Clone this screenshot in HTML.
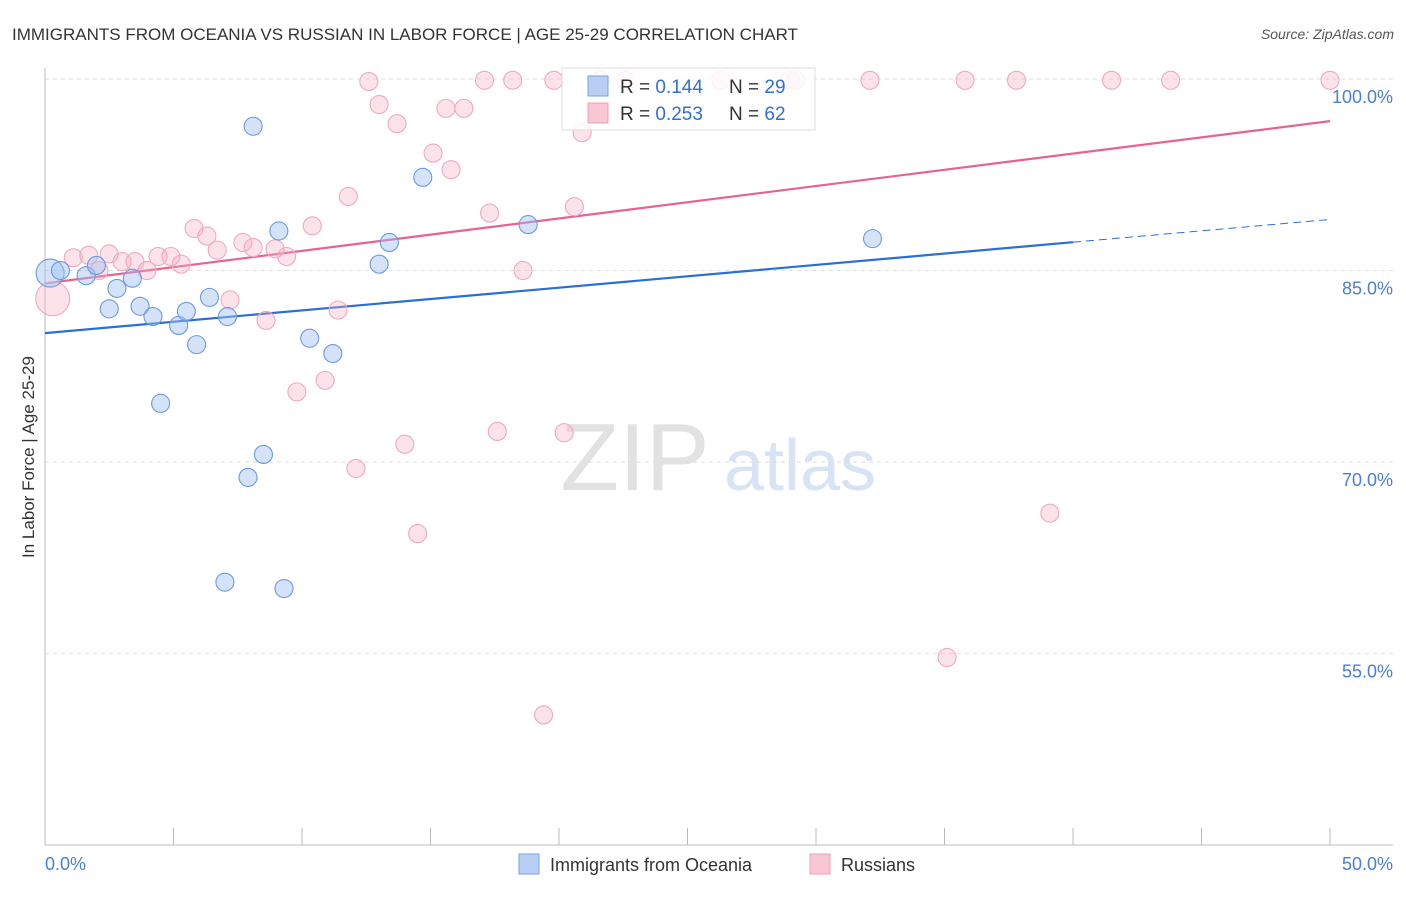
<!DOCTYPE html>
<html><head><meta charset="utf-8"><style>
body{margin:0;background:#fff;font-family:"Liberation Sans",sans-serif;}
svg text{font-family:"Liberation Sans",sans-serif;}
</style></head><body>
<svg width="1406" height="892" viewBox="0 0 1406 892">
<text x="12" y="40" font-size="17" fill="#333">IMMIGRANTS FROM OCEANIA VS RUSSIAN IN LABOR FORCE | AGE 25-29 CORRELATION CHART</text>
<text x="1394" y="39" font-size="14" fill="#555" font-style="italic" text-anchor="end">Source: ZipAtlas.com</text>
<g>
<text x="635" y="490" font-size="96" fill="#e2e2e2" font-family="Liberation Serif" text-anchor="middle">ZIP</text>
<text x="800" y="490" font-size="72" fill="#d8e3f5" text-anchor="middle">atlas</text>
</g>
<g id="grid"></g>
<g id="axes"></g>
<g id="lines"></g>
<g id="points"></g>
<text transform="translate(34,457) rotate(-90)" font-size="17" fill="#333" text-anchor="middle">In Labor Force | Age 25-29</text>
<text x="45" y="870" font-size="18" fill="#4a7fd4">0.0%</text>
<text x="1393" y="870" font-size="18" fill="#4a7fd4" text-anchor="end">50.0%</text>
<g>
<rect x="562" y="68" width="253" height="62" fill="rgba(255,255,255,0.85)" stroke="#ddd"/>
<rect x="588" y="76" width="20" height="20" fill="#b8cff3" stroke="#7aa3e6"/>
<rect x="588" y="103" width="20" height="20" fill="#f9c6d4" stroke="#eea0b5"/>
<text x="620" y="93" font-size="19" fill="#333">R = <tspan fill="#2f6fd6">0.144</tspan></text>
<text x="729" y="93" font-size="19" fill="#333">N = <tspan fill="#2f6fd6">29</tspan></text>
<text x="620" y="120" font-size="19" fill="#333">R = <tspan fill="#2f6fd6">0.253</tspan></text>
<text x="729" y="120" font-size="19" fill="#333">N = <tspan fill="#2f6fd6">62</tspan></text>
</g>
<g>
<rect x="519" y="854" width="20" height="20" fill="#b8cff3" stroke="#7aa3e6"/>
<text x="550" y="871" font-size="18" fill="#333">Immigrants from Oceania</text>
<rect x="810" y="854" width="20" height="20" fill="#f9c6d4" stroke="#eea0b5"/>
<text x="841" y="871" font-size="18" fill="#333">Russians</text>
</g>
</svg>
<script>
const yTicks=[100,85,70,55];
const yTickLabels=["100.0%","85.0%","70.0%","55.0%"];
const xTicks=[0,5,10,15,20,25,30,35,40,45,50];
const blueX=[0.2,0.6,1.6,2.0,2.5,2.8,3.4,3.7,4.2,4.5,5.2,5.5,5.9,6.4,7.0,7.1,7.9,8.1,8.5,9.1,9.3,10.3,11.2,13.0,13.4,14.7,18.8,32.2];
const blueY=[84.8,85.0,84.6,85.4,82.0,83.6,84.4,82.2,81.4,74.6,80.7,81.8,79.2,82.9,60.6,81.4,68.8,96.3,70.6,88.1,60.1,79.7,78.5,85.5,87.2,92.3,88.6,87.5];
const pinkX=[0.3,1.1,1.7,2.1,2.5,3.0,3.5,3.97,4.4,4.9,5.3,5.8,6.3,6.7,7.2,7.7,8.1,8.6,8.95,9.4,9.8,10.4,10.9,11.4,11.8,12.1,12.6,13.0,13.7,14.0,14.5,15.1,15.6,15.8,16.3,17.1,17.3,17.6,18.2,18.6,19.4,19.8,20.2,20.6,20.9,21.6,22.6,26.3,29.0,29.2,32.1,35.1,35.8,37.8,39.1,41.5,43.8,50.0];
const pinkY=[82.8,86.0,86.2,85.0,86.3,85.7,85.7,85.0,86.1,86.1,85.5,88.3,87.7,86.6,82.7,87.2,86.8,81.1,86.7,86.1,75.5,88.5,76.4,81.9,90.8,69.5,99.8,98.0,96.5,71.4,64.4,94.2,97.7,92.9,97.7,99.9,89.5,72.4,99.9,85.0,50.2,99.9,72.3,90.0,95.8,99.9,99.9,99.9,99.9,99.9,99.9,54.7,99.9,99.9,66.0,99.9,99.9,99.9];
const blueR=[14,9,9,9,9,9,9,9,9,9,9,9,9,9,9,9,9,9,9,9,9,9,9,9,9,9,9,9];
const pinkR0=17;
const blueTrend=[80.1,89.0];
const blueSolidEnd=40;
const pinkTrend=[84.0,96.7];
const NS="http://www.w3.org/2000/svg";
const sx=v=>45+v*25.7, sy=v=>79+(100-v)*12.77;
function mk(tag,attrs,parent){const e=document.createElementNS(NS,tag);for(const k in attrs)e.setAttribute(k,attrs[k]);document.getElementById(parent).appendChild(e);return e;}
yTicks.forEach((t,i)=>{
 const l=mk('line',{x1:45,x2:1393,y1:sy(t),y2:sy(t),stroke:'#ddd','stroke-dasharray':'4,4'},'grid');
 
 
 const tx=mk('text',{x:1393,y:sy(t)+24,'font-size':18,fill:'#4a7fd4','text-anchor':'end'},'grid');
 tx.textContent=yTickLabels[i];
 
 
});
const ya=mk('line',{x1:45,x2:45,y1:68,y2:845,stroke:'#bbb'},'axes');


const xa=mk('line',{x1:45,x2:1393,y1:845,y2:845,stroke:'#bbb'},'axes');


xTicks.forEach(t=>{const k=mk('line',{x1:sx(t),x2:sx(t),y1:828,y2:845,stroke:'#bbb'},'axes');
 
 });
const f=(tr,x)=>tr[0]+(tr[1]-tr[0])*x/50;
function pts(xs,ys,fill,stroke,name,rfn){xs.forEach((x,i)=>{const c=mk('circle',{cx:sx(x),cy:sy(ys[i]),r:rfn(i),fill:fill,stroke:stroke,'stroke-width':1.1},'points');
 
 });}
pts(pinkX,pinkY,'rgba(246,175,195,0.35)','#f0a8bc','russian-point',i=>i===0?pinkR0:9);
pts(blueX,blueY,'rgba(160,192,242,0.45)','#6b9ae2','oceania-point',i=>blueR[i]);
const bl=mk('line',{x1:sx(0),y1:sy(blueTrend[0]),x2:sx(blueSolidEnd),y2:sy(f(blueTrend,blueSolidEnd)),stroke:'#2a6fd6','stroke-width':2.2},'lines');


const bd=mk('line',{x1:sx(blueSolidEnd),y1:sy(f(blueTrend,blueSolidEnd)),x2:sx(50),y2:sy(blueTrend[1]),stroke:'#2a6fd6','stroke-width':1,'stroke-dasharray':'8,5'},'lines');


const pl=mk('line',{x1:sx(0),y1:sy(pinkTrend[0]),x2:sx(50),y2:sy(pinkTrend[1]),stroke:'#e8628e','stroke-width':2.2},'lines');


</script>
</body></html>
